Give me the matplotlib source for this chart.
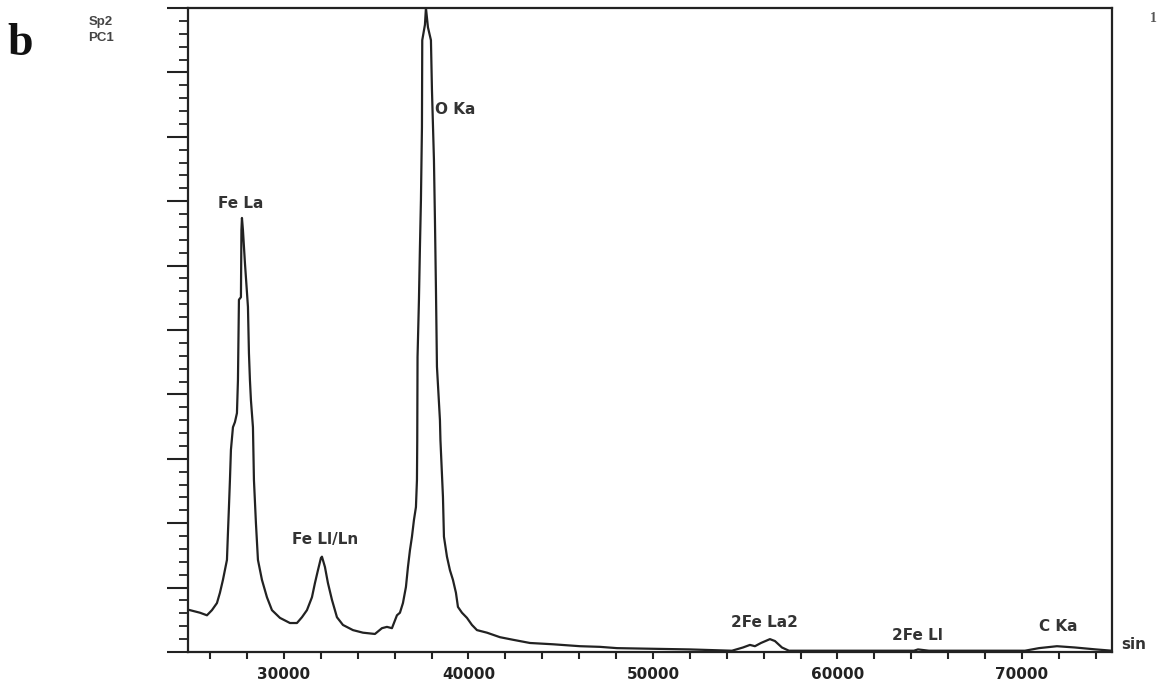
import numpy as np
import matplotlib.pyplot as plt
from matplotlib.ticker import MultipleLocator

# spectrum trace (x = position, y = intensity in major-tick units)
pos = [24905, 25447, 25827, 26098, 26369, 26531, 26694, 26911, 26965, 27019,
       27073, 27127, 27236, 27344, 27453, 27507, 27561, 27669, 27696, 27724,
       27778, 27886, 28049, 28103, 28157, 28211, 28320, 28374, 28482, 28591,
       28808, 29079, 29350, 29783, 30325, 30705, 30976, 31247, 31518, 31680,
       31843, 32005, 32060, 32222, 32385, 32602, 32873, 33198, 33740, 34282,
       34932, 35312, 35583, 35854, 36125, 36287, 36450, 36612, 36721, 36829,
       36938, 37046, 37154, 37209, 37225, 37241, 37317, 37371, 37425, 37480,
       37496, 37642, 37696, 37805, 37967, 38022, 38130, 38184, 38238, 38293,
       38455, 38482, 38618, 38672, 38835, 38997, 39160, 39322, 39431, 39648,
       39919, 40190, 40461, 41003, 41707, 42412, 43333, 44580, 46043, 47127,
       48049, 50000, 52000, 54282, 54878, 55257, 55528, 55854, 56341, 56612,
       56992, 57371, 60678, 64146, 64363, 64959, 67182, 70163, 70921, 71897,
       72873, 74011, 74878]
counts = [0.65, 0.61, 0.57, 0.65, 0.76, 0.92, 1.12, 1.43, 1.85, 2.25,
          2.67, 3.14, 3.49, 3.57, 3.71, 4.22, 5.47, 5.51, 6.55, 6.74,
          6.55, 6.04, 5.36, 4.64, 4.22, 3.91, 3.49, 2.67, 2.00, 1.43,
          1.12, 0.85, 0.65, 0.53, 0.45, 0.45, 0.54, 0.65, 0.85, 1.07,
          1.27, 1.46, 1.48, 1.32, 1.07, 0.81, 0.54, 0.42, 0.34, 0.30,
          0.28, 0.37, 0.39, 0.37, 0.57, 0.61, 0.76, 1.01, 1.32, 1.58,
          1.79, 2.05, 2.25, 2.67, 3.29, 4.58, 5.47, 6.29, 7.02, 8.15,
          9.50, 9.74, 10.0, 9.70, 9.50, 8.73, 7.64, 6.71, 5.65, 4.43,
          3.60, 3.29, 2.41, 1.79, 1.48, 1.27, 1.12, 0.92, 0.70, 0.61,
          0.53, 0.42, 0.34, 0.30, 0.23, 0.19, 0.14, 0.12, 0.09, 0.08,
          0.06, 0.05, 0.04, 0.02, 0.07, 0.11, 0.09, 0.14, 0.20, 0.17,
          0.07, 0.02, 0.02, 0.02, 0.04, 0.02, 0.02, 0.02, 0.06, 0.09,
          0.07, 0.04, 0.02]

# peak labels: text, x, y, alignment
peak_names = ["Fe La", "O Ka", "Fe Ll/Ln", "2Fe La2", "2Fe Ll", "C Ka"]
peak_x = [27670, 38184, 32222, 56016, 64309, 71951]
peak_y = [6.96, 8.43, 1.75, 0.46, 0.25, 0.39]
peak_ha = ["center", "left", "center", "center", "center", "center"]

x_ticks = [30000, 40000, 50000, 60000, 70000]

ink = "#222222"
label_ink = "#333333"

fig = plt.figure(figsize=(11.6, 6.87), dpi=100)
ax = fig.add_axes([188 / 1160, 1 - 652 / 687, 924 / 1160, 644 / 687])

ax.plot(pos, counts, color=ink, lw=1.6)

ax.set_xlim(24800, 74880)
ax.set_ylim(0, 10)

for sp in ax.spines.values():
    sp.set_linewidth(1.6)
    sp.set_color(ink)

ax.set_xticks(x_ticks)
ax.xaxis.set_minor_locator(MultipleLocator(2000))
ax.yaxis.set_major_locator(MultipleLocator(1))
ax.yaxis.set_minor_locator(MultipleLocator(0.2))
ax.set_yticklabels([])
ax.tick_params(axis="x", which="both", direction="out", length=5, width=1.5,
               color=ink, pad=6)
ax.tick_params(axis="x", labelsize=11, labelcolor=ink)
ax.tick_params(axis="y", which="major", direction="out", length=15, width=1.5, color=ink)
ax.tick_params(axis="y", which="minor", direction="out", length=6.5, width=1.3, color=ink)
for lab in ax.get_xticklabels():
    lab.set_fontweight("bold")
    lab.set_family("DejaVu Sans")

for name, x, y, ha in zip(peak_names, peak_x, peak_y, peak_ha):
    ax.text(x, y, name, ha=ha, va="center", fontsize=11, fontweight="bold",
            color=label_ink, family="DejaVu Sans")

ax.text(1.01, 0.012, "sin", transform=ax.transAxes, ha="left", va="center",
        fontsize=11, fontweight="bold", color=label_ink, family="DejaVu Sans")

fig.text(101 / 1160, 1 - 22 / 687, "Sp2", ha="center", va="center", fontsize=9.5,
         fontweight="bold", color="#444444", family="Liberation Sans")
fig.text(101 / 1160, 1 - 38 / 687, "PC1", ha="center", va="center", fontsize=9.5,
         fontweight="bold", color="#444444", family="Liberation Sans")
fig.text(7 / 1160, 1 - 55 / 687, "b", ha="left", va="baseline", fontsize=33,
         fontweight="bold", color="#111111", family="Liberation Serif")
fig.text(1157 / 1160, 1 - 19 / 687, "1", ha="right", va="center", fontsize=10,
         fontweight="bold", color="#555555", family="Liberation Serif")

fig.savefig("out.png", dpi=100, facecolor="white")
